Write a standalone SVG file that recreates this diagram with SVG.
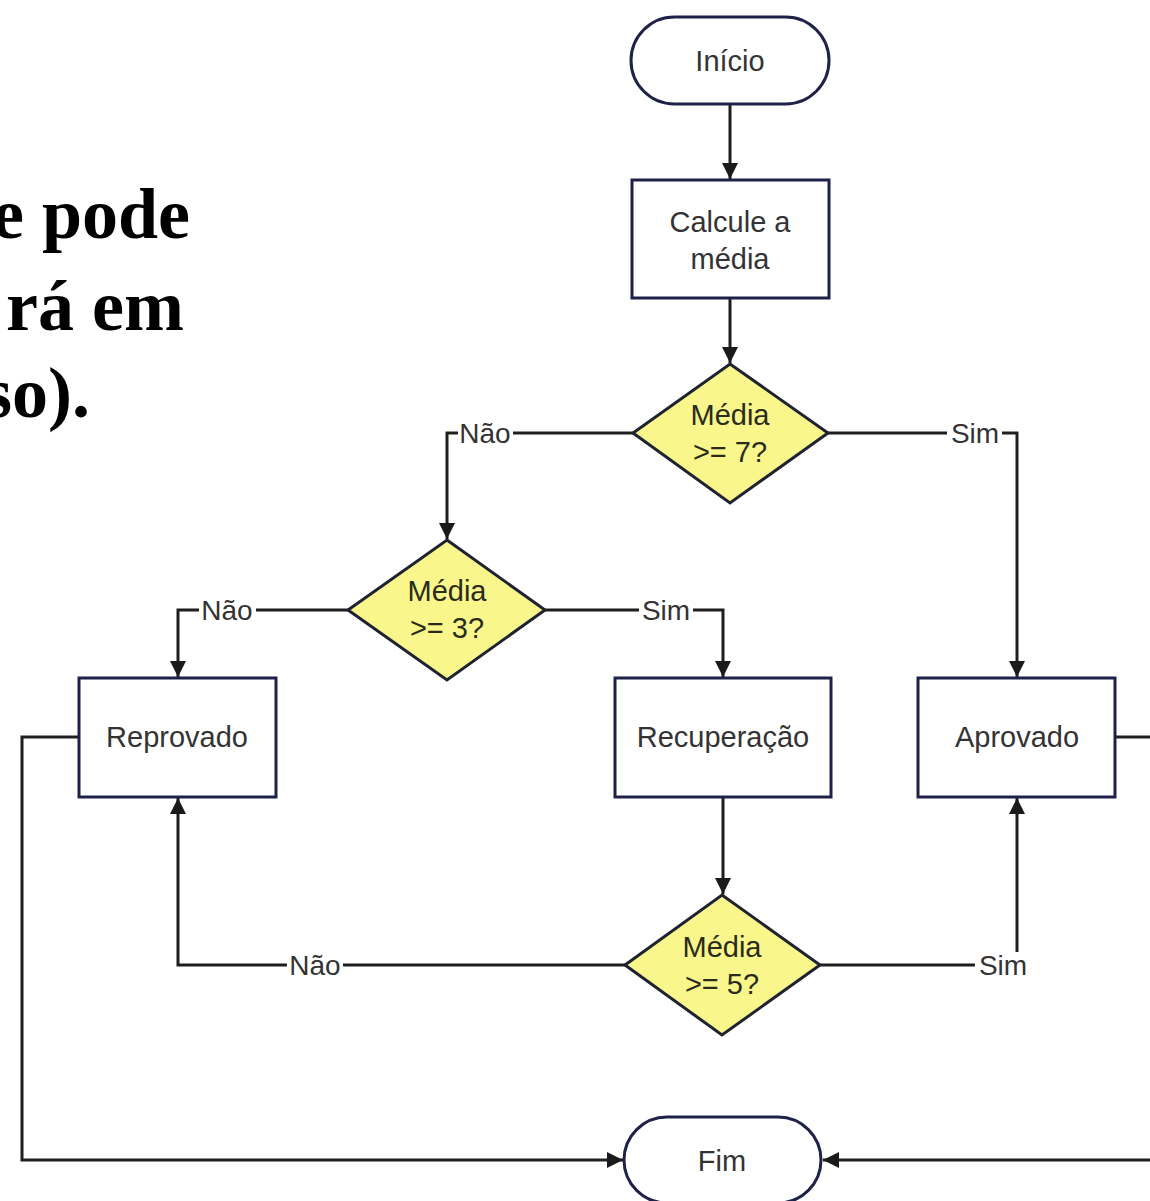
<svg xmlns="http://www.w3.org/2000/svg" width="1150" height="1201" viewBox="0 0 1150 1201">
<style>
.node{fill:#ffffff;stroke:#1e2148;stroke-width:3}
.dec{fill:#f9f78c;stroke:#1f2230;stroke-width:3}
.t{font-family:"Liberation Sans",Arial,sans-serif;font-size:29px;fill:#333333;text-anchor:middle}
.dt{fill:#2b2b1c}
.ln{fill:none;stroke:#1e1e1e;stroke-width:3}
.lbl{font-family:"Liberation Sans",Arial,sans-serif;font-size:28px;fill:#333333;text-anchor:middle}
.bg{fill:#ffffff}
.title{font-family:"Liberation Serif","Times New Roman",serif;font-weight:bold;font-size:72px;fill:#000000;text-anchor:end}
</style>
<defs>
<marker id="ah" markerUnits="userSpaceOnUse" markerWidth="16" markerHeight="18" viewBox="0 0 16 18" refX="16" refY="9" orient="auto">
<path d="M0,1 L16,9 L0,17 Z" fill="#1a1a1a"/>
</marker>
</defs>
<rect width="1150" height="1201" fill="#ffffff"/>
<g id="title">
<text class="title" x="190" y="238">e pode</text>
<text class="title" x="184" y="330">rá em</text>
<text class="title" x="90" y="417">so).</text>
</g>
<g id="connectors">
<path class="ln" d="M730,104 V179" marker-end="url(#ah)"/>
<path class="ln" d="M730,298 V363" marker-end="url(#ah)"/>
<path class="ln" d="M633,433 H447 V539" marker-end="url(#ah)"/>
<path class="ln" d="M828,433 H1017 V677" marker-end="url(#ah)"/>
<path class="ln" d="M348,610 H178 V677" marker-end="url(#ah)"/>
<path class="ln" d="M545,610 H723 V677" marker-end="url(#ah)"/>
<path class="ln" d="M723,797 V894" marker-end="url(#ah)"/>
<path class="ln" d="M625,965 H178 V798" marker-end="url(#ah)"/>
<path class="ln" d="M820,965 H1017 V798" marker-end="url(#ah)"/>
<path class="ln" d="M79,737 H22 V1160 H623" marker-end="url(#ah)"/>
<path class="ln" d="M1115,737 H1160"/>
<path class="ln" d="M1160,1160 H823" marker-end="url(#ah)"/>
<rect class="bg" x="458" y="420" width="55" height="26"/>
<text class="lbl" x="485" y="443">Não</text>
<rect class="bg" x="947" y="420" width="55" height="26"/>
<text class="lbl" x="975" y="443">Sim</text>
<rect class="bg" x="199" y="597" width="57" height="26"/>
<text class="lbl" x="227" y="620">Não</text>
<rect class="bg" x="639" y="597" width="54" height="26"/>
<text class="lbl" x="666" y="620">Sim</text>
<rect class="bg" x="287" y="952" width="56" height="26"/>
<text class="lbl" x="315" y="975">Não</text>
<rect class="bg" x="975" y="952" width="56" height="30"/>
<text class="lbl" x="1003" y="975">Sim</text>
</g>
<g id="inicio">
<rect class="node" x="631" y="17" width="198" height="87" rx="43.5" ry="43.5"/>
<text class="t" x="730" y="71">Início</text>
</g>
<g id="calcule">
<rect class="node" x="632" y="180" width="197" height="118"/>
<text class="t" x="730" y="232">Calcule a</text>
<text class="t" x="730" y="269">média</text>
</g>
<g id="dec7">
<polygon class="dec" points="730,364 828,433 730,503 633,433"/>
<text class="t dt" x="730" y="425">Média</text>
<text class="t dt" x="730" y="462">&gt;= 7?</text>
</g>
<g id="dec3">
<polygon class="dec" points="447,540 545,610 447,680 348,610"/>
<text class="t dt" x="447" y="601">Média</text>
<text class="t dt" x="447" y="638">&gt;= 3?</text>
</g>
<g id="reprovado">
<rect class="node" x="79" y="678" width="197" height="119"/>
<text class="t" x="177" y="747">Reprovado</text>
</g>
<g id="recuperacao">
<rect class="node" x="615" y="678" width="216" height="119"/>
<text class="t" x="723" y="747">Recuperação</text>
</g>
<g id="aprovado">
<rect class="node" x="918" y="678" width="197" height="119"/>
<text class="t" x="1017" y="747">Aprovado</text>
</g>
<g id="dec5">
<polygon class="dec" points="722,895 820,965 722,1035 625,965"/>
<text class="t dt" x="722" y="957">Média</text>
<text class="t dt" x="722" y="994">&gt;= 5?</text>
</g>
<g id="fim">
<rect class="node" x="624" y="1117" width="197" height="86" rx="43" ry="43"/>
<text class="t" x="722" y="1171">Fim</text>
</g>
</svg>
